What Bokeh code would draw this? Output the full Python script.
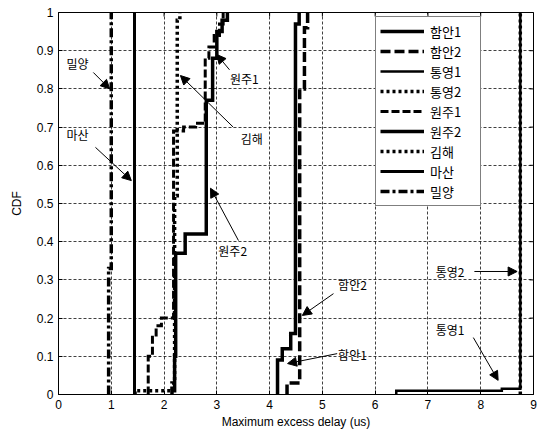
import math

from bokeh.plotting import figure
from bokeh.models import (Range1d, FixedTicker, Legend, LegendItem, Arrow,
                          NormalHead, Label)
from bokeh.embed import file_html
from bokeh.resources import INLINE

# ---- data: maximum excess delay CDF per measurement site -------------------
x_ticks = [0, 1, 2, 3, 4, 5, 6, 7, 8, 9]
y_ticks = [0, 0.1, 0.2, 0.3, 0.4, 0.5, 0.6, 0.7, 0.8, 0.9, 1.0]
y_tick_labels = ["0", "0.1", "0.2", "0.3", "0.4", "0.5", "0.6", "0.7", "0.8", "0.9", "1"]

site_names = ["함안1", "함안2", "통영1", "통영2", "원주1", "원주2", "김해", "마산", "밀양"]

# delay (us) at which the CDF steps, and the CDF level after the step
haman1_delay = [4.15, 4.24, 4.40, 4.49, 4.56]
haman1_cdf = [0.09, 0.12, 0.16, 0.97, 1.0]

haman2_delay = [4.33, 4.57, 4.66, 4.72]
haman2_cdf = [0.03, 0.80, 0.96, 1.0]

tongyeong1_delay = [6.40, 8.40, 8.75]
tongyeong1_cdf = [0.01, 0.015, 1.0]

tongyeong2_delay = [8.75]
tongyeong2_cdf = [1.0]

wonju1_delay = [1.70, 1.78, 1.85, 1.95, 2.18, 2.37, 2.60, 2.78, 2.85, 2.95, 3.05, 3.12]
wonju1_cdf = [0.10, 0.15, 0.18, 0.20, 0.69, 0.70, 0.71, 0.88, 0.91, 0.94, 0.97, 1.0]

wonju2_delay = [2.15, 2.20, 2.22, 2.40, 2.80, 2.92, 3.00, 3.10, 3.20]
wonju2_cdf = [0.01, 0.10, 0.37, 0.42, 0.77, 0.88, 0.95, 0.98, 1.0]

gimhae_delay = [1.45, 2.15, 2.20, 2.25, 2.30]
gimhae_cdf = [0.01, 0.03, 0.52, 0.98, 1.0]

masan_delay = [1.44]
masan_cdf = [1.0]

miryang_delay = [0.95, 1.00]
miryang_cdf = [0.33, 1.0]


def staircase(delays, cdf):
    """Empirical CDF as a polyline: a vertical jump at every delay."""
    xs, ys = [], []
    prev = 0.0
    for d, c in zip(delays, cdf):
        xs += [d, d]
        ys += [prev, c]
        prev = c
    return xs, ys


# ---- figure -----------------------------------------------------------------
p = figure(width=539, height=435, output_backend="svg", toolbar_location=None,
           x_range=Range1d(0, 9), y_range=Range1d(0, 1),
           min_border_left=58, min_border_right=6, min_border_top=12,
           min_border_bottom=41)
p.background_fill_color = "white"
p.border_fill_color = "white"
p.outline_line_color = "black"
p.outline_line_width = 1

tick_font = "Liberation Sans"
for ax in (p.xaxis[0], p.yaxis[0]):
    ax.major_label_text_font = tick_font
    ax.major_label_text_font_size = "12px"
    ax.major_label_text_color = "black"
    ax.axis_label_text_font = tick_font
    ax.axis_label_text_font_size = "12px"
    ax.axis_label_text_font_style = "normal"
    ax.axis_label_text_color = "black"
    ax.major_tick_in = 4
    ax.major_tick_out = 0
    ax.minor_tick_line_color = None
    ax.axis_line_color = "black"
    ax.major_tick_line_color = "black"

p.xaxis.ticker = FixedTicker(ticks=x_ticks)
p.yaxis.ticker = FixedTicker(ticks=y_ticks)
p.yaxis.major_label_overrides = dict(zip(y_ticks, y_tick_labels))
p.xaxis.axis_label = "Maximum excess delay (us)"
p.yaxis.axis_label = "CDF"
p.xaxis.major_label_standoff = 5
p.yaxis.major_label_standoff = 5
p.xaxis.axis_label_standoff = 3
p.yaxis.axis_label_standoff = 10

p.xgrid.ticker = FixedTicker(ticks=x_ticks)
p.ygrid.ticker = FixedTicker(ticks=y_ticks)
p.grid.grid_line_color = "black"
p.grid.grid_line_dash = "3 2"
p.grid.grid_line_width = 1
p.grid.grid_line_alpha = 0.75

# inward tick marks on the top and right edges of the box (clipped to frame)
p.scatter(x_ticks, [1.0] * len(x_ticks), marker="dash", angle=math.pi / 2,
          size=8, line_color="black", line_width=1)
p.scatter([9.0] * len(y_ticks), y_ticks, marker="dash", size=8,
          line_color="black", line_width=1)

# ---- curves -----------------------------------------------------------------
series = [
    (haman1_delay, haman1_cdf, 3.5, "solid"),
    (haman2_delay, haman2_cdf, 3.5, "10 4"),
    (tongyeong1_delay, tongyeong1_cdf, 2.5, "solid"),
    (tongyeong2_delay, tongyeong2_cdf, 3.5, "3 3"),
    (wonju1_delay, wonju1_cdf, 3, "8 3"),
    (wonju2_delay, wonju2_cdf, 3.5, "solid"),
    (gimhae_delay, gimhae_cdf, 3.5, "3 3"),
    (masan_delay, masan_cdf, 3, "solid"),
    (miryang_delay, miryang_cdf, 3.5, "9 3 3 3"),
]

items = []
for name, (d, c, lw, dash) in zip(site_names, series):
    xs, ys = staircase(d, c)
    r = p.line(xs, ys, line_color="black", line_width=lw, line_dash=dash,
               line_join="miter")
    items.append(LegendItem(label=name, renderers=[r]))

# legend box: left edge 317 px into the frame, bottom edge 188 px above it
legend = Legend(items=items, location=(317, 188), orientation="vertical",
                border_line_color="black", border_line_width=1,
                background_fill_color="white", background_fill_alpha=1,
                padding=4, spacing=0, margin=0, glyph_width=44,
                glyph_height=20, label_height=20, label_width=46,
                label_standoff=6, label_text_font="Noto Sans CJK KR",
                label_text_font_size="13px", label_text_color="black")
p.add_layout(legend)

# ---- callouts ---------------------------------------------------------------
callouts = [
    # text, label x, label y, arrow from (x, y), arrow to (x, y)
    ("밀양", 0.36, 0.866, 0.66, 0.843, 0.97, 0.800),
    ("마산", 0.36, 0.680, 0.70, 0.647, 1.38, 0.560),
    ("김해", 3.66, 0.670, 3.31, 0.700, 2.31, 0.835),
    ("원주1", 3.52, 0.827, 3.24, 0.850, 3.00, 0.890),
    ("원주2", 3.30, 0.377, 3.41, 0.403, 2.88, 0.540),
    ("함안2", 5.57, 0.288, 5.21, 0.264, 4.62, 0.207),
    ("함안1", 5.57, 0.105, 5.28, 0.107, 4.34, 0.081),
    ("통영2", 7.42, 0.322, 7.88, 0.322, 8.69, 0.322),
    ("통영1", 7.42, 0.170, 7.86, 0.149, 8.33, 0.037),
]
for text, lx, ly, x0, y0, x1, y1 in callouts:
    p.add_layout(Arrow(x_start=x0, y_start=y0, x_end=x1, y_end=y1,
                       line_color="black", line_width=1,
                       end=NormalHead(size=9, fill_color="black",
                                      line_color="black", line_width=1)))
    p.add_layout(Label(x=lx, y=ly, text=text, text_align="center",
                       text_baseline="middle", text_font="Noto Sans CJK KR",
                       text_font_size="12px", text_color="black"))

open("out.html", "w").write(file_html(p, INLINE))
